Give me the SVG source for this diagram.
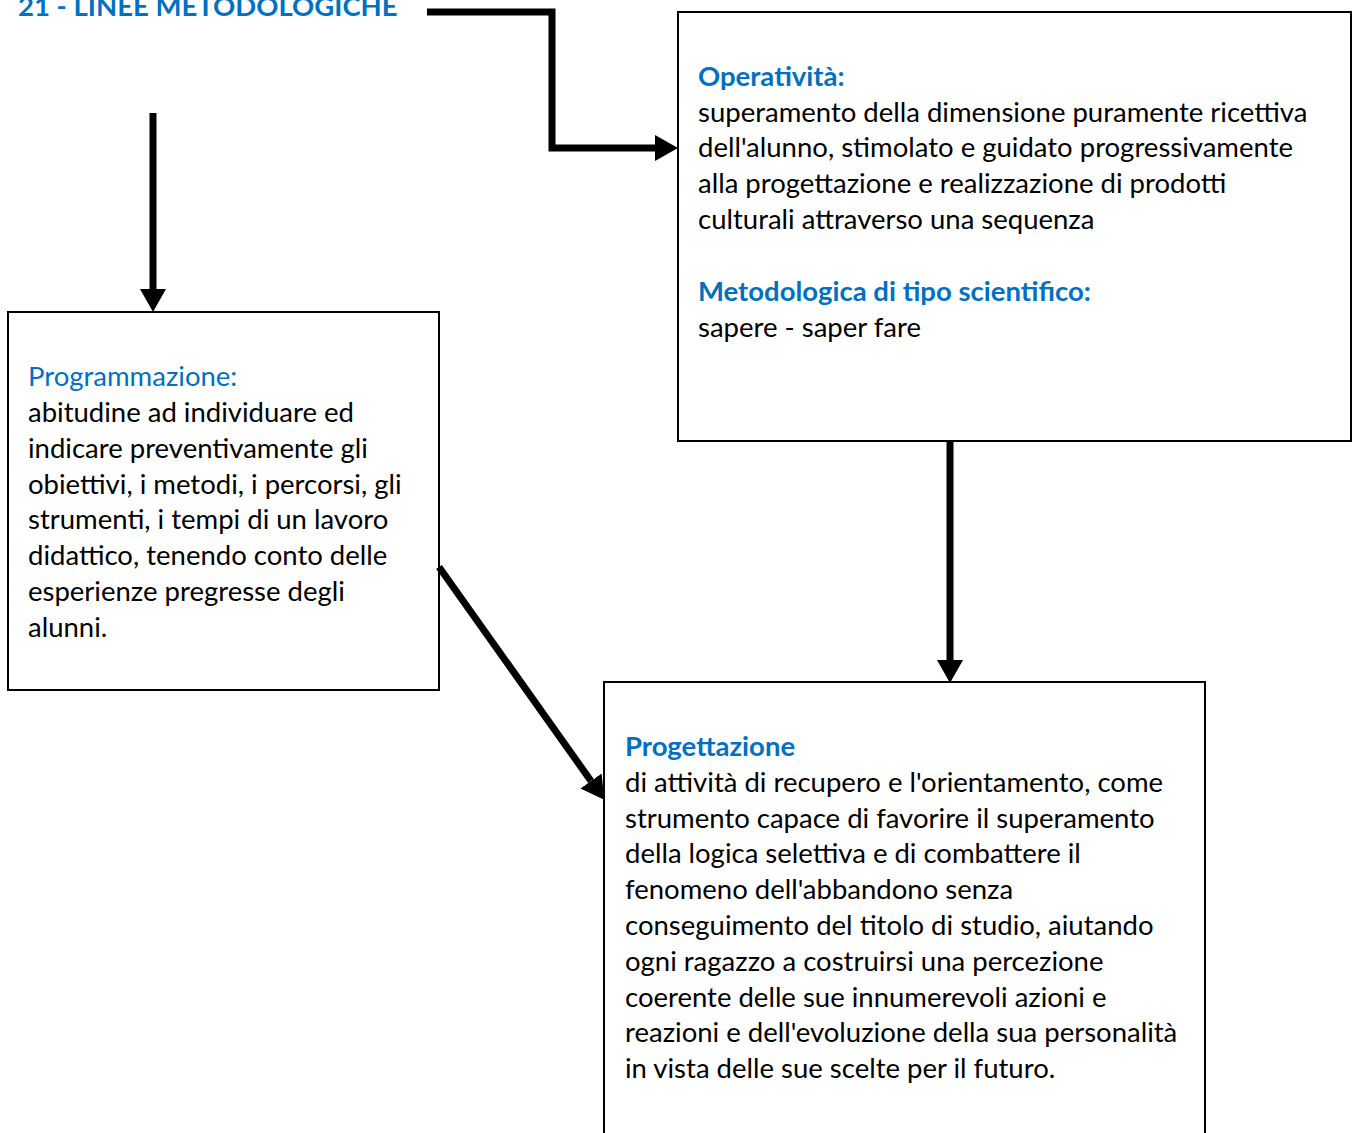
<svg xmlns="http://www.w3.org/2000/svg" width="1358" height="1133" viewBox="0 0 1358 1133">
<style>
.box{fill:#fff;stroke:#000;stroke-width:2}
.t{font-family:Lato,"Open Sans",sans-serif;font-size:27.5px;fill:#000}
.h{fill:#0070c0;font-weight:bold}
.hn{fill:#0070c0}
.c{fill:none;stroke:#000;stroke-width:7}
</style>
<defs>
<marker id="ah" markerUnits="userSpaceOnUse" markerWidth="23" markerHeight="26" viewBox="0 0 23 26" refX="0" refY="13" orient="auto">
<path d="M0,0 L23,13 L0,26 Z" fill="#000"/>
</marker>
</defs>
<rect width="1358" height="1133" fill="#fff"/>
<text class="t h" x="18" y="16">21 - LINEE METODOLOGICHE</text>
<g id="n-operativita">
<rect class="box" x="678" y="12" width="673" height="429"/>
<text class="t">
<tspan class="h" x="698" y="86">Operatività:</tspan>
<tspan x="698" y="122">superamento della dimensione puramente ricettiva</tspan>
<tspan x="698" y="157">dell'alunno, stimolato e guidato progressivamente</tspan>
<tspan x="698" y="193">alla progettazione e realizzazione di prodotti</tspan>
<tspan x="698" y="229">culturali attraverso una sequenza</tspan>
<tspan class="h" x="698" y="301">Metodologica di tipo scientifico:</tspan>
<tspan x="698" y="337">sapere - saper fare</tspan>
</text>
</g>
<g id="n-programmazione">
<rect class="box" x="8" y="312" width="431" height="378"/>
<text class="t">
<tspan class="hn" x="28" y="386">Programmazione:</tspan>
<tspan x="28" y="422">abitudine ad individuare ed</tspan>
<tspan x="28" y="458">indicare preventivamente gli</tspan>
<tspan x="28" y="494">obiettivi, i metodi, i percorsi, gli</tspan>
<tspan x="28" y="529">strumenti, i tempi di un lavoro</tspan>
<tspan x="28" y="565">didattico, tenendo conto delle</tspan>
<tspan x="28" y="601">esperienze pregresse degli</tspan>
<tspan x="28" y="637">alunni.</tspan>
</text>
</g>
<g id="n-progettazione">
<rect class="box" x="604" y="682" width="601" height="470"/>
<text class="t">
<tspan class="h" x="625" y="756">Progettazione</tspan>
<tspan x="625" y="792">di attività di recupero e l'orientamento, come</tspan>
<tspan x="625" y="828">strumento capace di favorire il superamento</tspan>
<tspan x="625" y="863">della logica selettiva e di combattere il</tspan>
<tspan x="625" y="899">fenomeno dell'abbandono senza</tspan>
<tspan x="625" y="935">conseguimento del titolo di studio, aiutando</tspan>
<tspan x="625" y="971">ogni ragazzo a costruirsi una percezione</tspan>
<tspan x="625" y="1007">coerente delle sue innumerevoli azioni e</tspan>
<tspan x="625" y="1042">reazioni e dell'evoluzione della sua personalità</tspan>
<tspan x="625" y="1078">in vista delle sue scelte per il futuro.</tspan>
</text>
</g>
<g id="connectors">
<path class="c" d="M427,12 H552 V148 H655" marker-end="url(#ah)"/>
<path class="c" d="M153,113 V289" marker-end="url(#ah)"/>
<path class="c" d="M950,441 V660" marker-end="url(#ah)"/>
<path class="c" d="M439,567 L591,781" marker-end="url(#ah)"/>
</g>
</svg>
